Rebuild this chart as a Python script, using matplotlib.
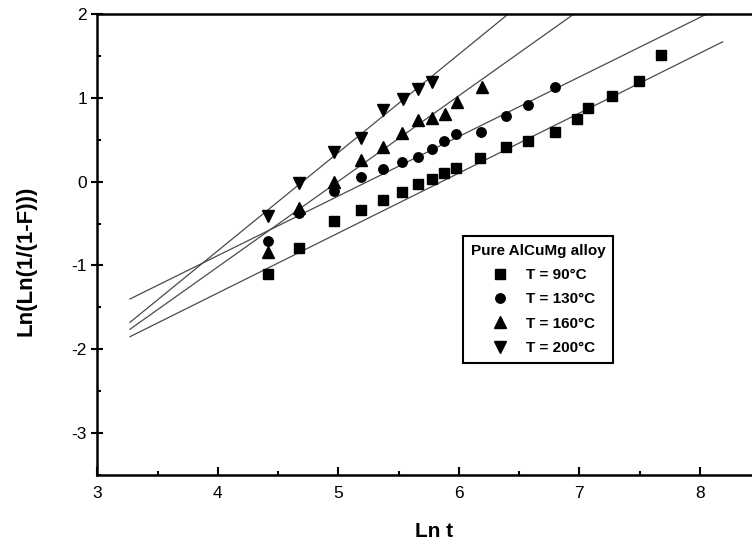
import numpy as np
import matplotlib
matplotlib.use('Agg')
import matplotlib.pyplot as plt
from matplotlib.ticker import MultipleLocator

plt.rcParams['font.family'] = ['Liberation Sans', 'DejaVu Sans']
plt.rcParams['axes.unicode_minus'] = False

####### datos (ln t , ln(ln(1/(1-F))))

x_90 = [4.413, 4.676, 4.966, 5.188, 5.368, 5.525, 5.658, 5.774, 5.876, 5.976,
        6.175, 6.391, 6.576, 6.798, 6.978, 7.074, 7.273, 7.492, 7.677]
y_90 = [-1.103, -0.789, -0.466, -0.338, -0.219, -0.119, -0.031, 0.032, 0.100, 0.164,
        0.287, 0.418, 0.490, 0.597, 0.746, 0.884, 1.027, 1.203, 1.514]

x_130 = [4.413, 4.676, 4.966, 5.188, 5.373, 5.525, 5.658, 5.774, 5.879, 5.978,
         6.181, 6.391, 6.576, 6.798]
y_130 = [-0.705, -0.378, -0.108, 0.053, 0.152, 0.239, 0.299, 0.390, 0.490, 0.566,
         0.597, 0.789, 0.916, 1.135]

x_160 = [4.413, 4.676, 4.966, 5.188, 5.373, 5.530, 5.663, 5.779, 5.887, 5.987, 6.189]
y_160 = [-0.836, -0.319, 0.000, 0.259, 0.418, 0.585, 0.737, 0.757, 0.809, 0.956, 1.135]

x_200 = [4.413, 4.676, 4.966, 5.188, 5.373, 5.534, 5.663, 5.779]
y_200 = [-0.411, -0.019, 0.352, 0.526, 0.855, 0.984, 1.104, 1.195]

# rectas de ajuste: pendiente, ordenada, rango en x
fit_slope = [0.716, 0.711, 1.022, 1.173]
fit_icpt = [-4.193, -3.726, -5.105, -5.516]
fit_x0 = [3.27, 3.27, 3.27, 3.27]
fit_x1 = [8.19, 8.5, 8.5, 8.5]

labels = ['T = 90°C', 'T = 130°C', 'T = 160°C', 'T = 200°C']
markers = ['s', 'o', '^', 'v']
msizes = [7.2, 6.8, 8.2, 8.2]

####### Plot

fig = plt.figure(figsize=(7.52, 5.48), dpi=100)
ax = fig.add_axes([97.4 / 752, 1 - 474.7 / 548, (760 - 97.4) / 752, (474.7 - 14.3) / 548])

for i in range(4):
    xf = np.array([fit_x0[i], fit_x1[i]])
    ax.plot(xf, fit_slope[i] * xf + fit_icpt[i], color='#4a4a4a', lw=0.9, zorder=2)

series = [(x_90, y_90), (x_130, y_130), (x_160, y_160), (x_200, y_200)]
handles = []
for i, (xs, ys) in enumerate(series):
    h, = ax.plot(xs, ys, linestyle='none', marker=markers[i], ms=msizes[i],
                 color='black', label=labels[i], zorder=3)
    handles.append(h)

ax.set_xlim(3, 8.5)
ax.set_ylim(-3.5, 2)
ax.xaxis.set_major_locator(MultipleLocator(1))
ax.xaxis.set_minor_locator(MultipleLocator(0.5))
ax.yaxis.set_major_locator(MultipleLocator(1))
ax.yaxis.set_minor_locator(MultipleLocator(0.5))
ax.set_yticks([-3, -2, -1, 0, 1, 2])

for s in ax.spines.values():
    s.set_linewidth(1.8)

ax.tick_params(axis='x', which='major', direction='in', length=6, width=1.5,
               labelsize=12.5, pad=8)
ax.tick_params(axis='x', which='minor', direction='in', length=3, width=1.5)
ax.tick_params(axis='y', which='major', direction='inout', length=9, width=1.5,
               labelsize=12.5, pad=3)
ax.tick_params(axis='y', which='minor', direction='in', length=3, width=1.5)

ax.set_xlabel('Ln t', fontsize=15, fontweight='bold')
ax.set_ylabel('Ln(Ln(1/(1-F)))', fontsize=16, fontweight='bold')
ax.xaxis.set_label_coords(0.508, -0.103)
ax.yaxis.set_label_coords(-0.092, 0.465)

leg = ax.legend(handles=handles, title='Pure AlCuMg alloy', loc='upper left',
                bbox_to_anchor=(463 / 752, 1 - 236 / 548), bbox_transform=fig.transFigure,
                borderaxespad=0, fancybox=False, framealpha=1, edgecolor='black',
                prop={'size': 11, 'weight': 'bold'},
                title_fontproperties={'size': 11, 'weight': 'bold'},
                numpoints=1, handlelength=2.4, handletextpad=0.5,
                borderpad=0.5, labelspacing=0.68)
leg.get_frame().set_linewidth(1.5)

fig.savefig('out.png', dpi=100)
